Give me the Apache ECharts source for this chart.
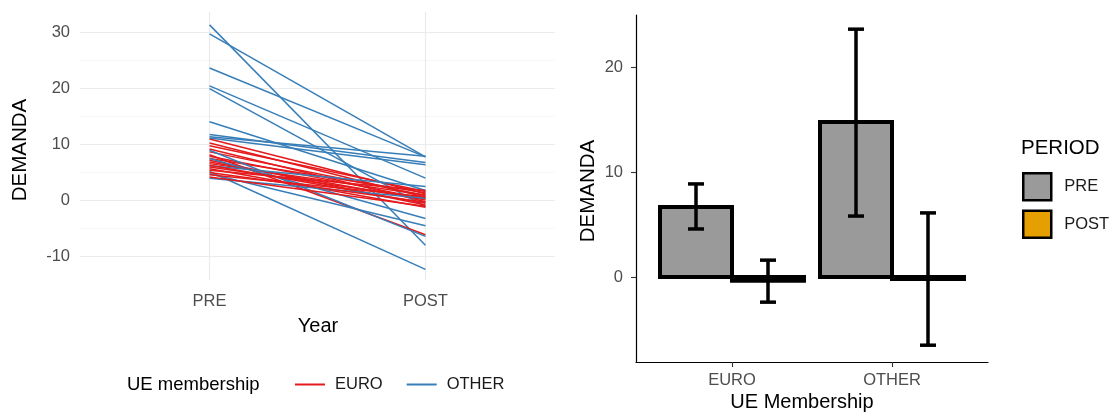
<!DOCTYPE html>
<html>
<head>
<meta charset="utf-8">
<script src="https://cdn.jsdelivr.net/npm/echarts@6/dist/echarts.min.js"></script>
<style>
  html, body { margin: 0; padding: 0; background: #ffffff; }
  #main { width: 1114px; height: 413px; }
</style>
</head>
<body>
<div id="main"></div>
<script>
// ---- Left panel: country trajectories PRE -> POST ----
const periods = ['PRE', 'POST'];
const euroPre  = [11.0, 10.3, 9.8, 9.2, 8.7, 8.2, 7.9, 7.5, 7.2, 6.9, 6.6, 6.3, 6.0, 5.7, 5.4, 5.0, 4.6, 4.2];
const euroPost = [1.2, 0.6, 1.6, -0.2, 0.9, -6.1, 0.3, 1.4, -0.8, 0.1, 1.0, -0.5, 0.4, -1.2, 1.8, -0.3, 0.7, -1.0];
const otherPre  = [31.4, 29.8, 23.7, 20.5, 20.0, 14.1, 11.8, 11.4, 11.2, 9.0, 7.5, 6.2, 5.2, 4.8, 4.0];
const otherPost = [-8.0, 7.8, 7.8, 4.0, -1.1, 1.8, 6.8, 7.9, 6.4, -6.4, -3.2, 2.5, -12.3, -4.5, 0.4];
const leftTicks = [-10, 0, 10, 20, 30];
const leftMinor = [-5, 5, 15, 25];

// ---- Right panel: group means with error bars ----
const memberships = ['EURO', 'OTHER'];
const meanPre  = [6.67, 14.76];
const meanPost = [-0.35, -0.2];
const lowPre   = [4.57, 5.8];
const highPre  = [8.86, 23.6];
const lowPost  = [-2.4, -6.5];
const highPost = [1.6, 6.1];
const rightTicks = [0, 10, 20];

const FONT = "'Liberation Sans', Arial, Helvetica, sans-serif";
const RED = '#E41A1C', BLUE = '#377EB8';
const GREY_FILL = '#9A9A9A', ORANGE = '#E69F00';

const chart = echarts.init(document.getElementById('main'), null, { renderer: 'canvas' });

// one line series per country, blue and red interleaved in drawing order
const lineSeries = [];
function countryLine(name, color, pre, post) {
  return {
    type: 'line', name: name, xAxisIndex: 0, yAxisIndex: 0,
    data: [[1, pre], [2, post]],
    symbol: 'none', silent: true, color: color,
    lineStyle: { width: 1.5, color: color }
  };
}
const n = Math.max(euroPre.length, otherPre.length);
for (let i = 0; i < n; i++) {
  if (i < otherPre.length) lineSeries.push(countryLine('OTHER', BLUE, otherPre[i], otherPost[i]));
  if (i < euroPre.length) lineSeries.push(countryLine('EURO', RED, euroPre[i], euroPost[i]));
}

const BAR_W = 0.45;   // dodge width of each bar, in category units
const CAP_HALF = 0.05;
const OUTLINE = 4;

function barSeries(name, fill, means, side) {
  return {
    type: 'custom', name: name, xAxisIndex: 1, yAxisIndex: 1,
    itemStyle: { color: fill, borderColor: '#000', borderWidth: OUTLINE },
    data: means.map((v, i) => [i + 1, v]),
    renderItem: function (params, api) {
      const c = api.value(0), v = api.value(1);
      const x0 = side < 0 ? c - BAR_W : c;
      const a = api.coord([x0, 0]);
      const b = api.coord([x0 + BAR_W, v]);
      return {
        type: 'rect',
        shape: { x: a[0], y: Math.min(a[1], b[1]), width: b[0] - a[0], height: Math.max(Math.abs(b[1] - a[1]), 0.5) },
        style: { fill: fill, stroke: '#000', lineWidth: OUTLINE }
      };
    },
    z: 2
  };
}

function errSeries(name, lows, highs, side) {
  return {
    type: 'custom', name: name, xAxisIndex: 1, yAxisIndex: 1,
    data: lows.map((lo, i) => [i + 1 + side * BAR_W / 2, lo, highs[i]]),
    renderItem: function (params, api) {
      const x = api.value(0), lo = api.value(1), hi = api.value(2);
      const pLo = api.coord([x, lo]), pHi = api.coord([x, hi]);
      const l = api.coord([x - CAP_HALF, lo])[0], r = api.coord([x + CAP_HALF, lo])[0];
      const st = { stroke: '#000', lineWidth: 3.5, lineCap: 'butt' };
      return {
        type: 'group',
        children: [
          { type: 'line', shape: { x1: pLo[0], y1: pLo[1], x2: pHi[0], y2: pHi[1] }, style: st },
          { type: 'line', shape: { x1: l, y1: pLo[1], x2: r, y2: pLo[1] }, style: st },
          { type: 'line', shape: { x1: l, y1: pHi[1], x2: r, y2: pHi[1] }, style: st }
        ]
      };
    },
    z: 3
  };
}

const tickText = { color: '#4D4D4D', fontSize: 16.5, fontFamily: FONT };

const option = {
  animation: false,
  backgroundColor: '#ffffff',
  textStyle: { fontFamily: FONT },
  grid: [
    { left: 80, top: 12, width: 475, height: 268 },
    { left: 636, top: 15, width: 352, height: 347 }
  ],
  xAxis: [
    {
      type: 'value', gridIndex: 0, min: 0.4, max: 2.6,
      axisLine: { show: false },
      axisTick: { show: false, customValues: [1, 2] },
      axisLabel: Object.assign({ customValues: [1, 2], margin: 13, formatter: v => periods[Math.round(v) - 1] }, tickText),
      splitLine: { show: true, lineStyle: { color: '#EBEBEB', width: 1.2 } }
    },
    {
      type: 'value', gridIndex: 1, min: 0.4, max: 2.6,
      axisLine: { show: true, onZero: false, lineStyle: { color: '#000', width: 1.2 } },
      axisTick: { show: true, customValues: [1, 2], length: 5, lineStyle: { color: '#333', width: 1.1 } },
      axisLabel: Object.assign({ customValues: [1, 2], margin: 10, formatter: v => memberships[Math.round(v) - 1] }, tickText),
      splitLine: { show: false }
    }
  ],
  yAxis: [
    {
      type: 'value', gridIndex: 0, min: -14.2, max: 33.7,
      axisLine: { show: false },
      axisTick: { show: false, customValues: leftTicks },
      axisLabel: Object.assign({ customValues: leftTicks, margin: 10 }, tickText),
      splitLine: { show: true, lineStyle: { color: '#EBEBEB', width: 1.2 } }
    },
    {
      type: 'value', gridIndex: 1, min: -8.1, max: 24.95,
      axisLine: { show: true, onZero: false, lineStyle: { color: '#000', width: 1.2 } },
      axisTick: { show: true, customValues: rightTicks, length: 5, lineStyle: { color: '#333', width: 1.1 } },
      axisLabel: Object.assign({ customValues: rightTicks, margin: 13 }, tickText),
      splitLine: { show: false }
    },
    {
      // minor grid of the left panel
      type: 'value', gridIndex: 0, min: -14.2, max: 33.7, position: 'left',
      axisLine: { show: false },
      axisTick: { show: false, customValues: leftMinor },
      axisLabel: { show: false, customValues: leftMinor },
      splitLine: { show: true, lineStyle: { color: '#F5F5F5', width: 0.8 } }
    }
  ],
  legend: [
    {
      data: [
        { name: 'EURO', icon: 'rect', itemStyle: { color: RED } },
        { name: 'OTHER', icon: 'rect', itemStyle: { color: BLUE } }
      ],
      left: 295, top: 376, orient: 'horizontal',
      itemWidth: 30, itemHeight: 2, itemGap: 24, padding: 0,
      selectedMode: false,
      textStyle: { fontSize: 16.5, color: '#1A1A1A', fontFamily: FONT, padding: [0, 0, 0, 5] }
    },
    {
      data: [
        { name: 'PRE', icon: 'rect', itemStyle: { color: GREY_FILL, borderColor: '#000', borderWidth: 2.5 } },
        { name: 'POST', icon: 'rect', itemStyle: { color: ORANGE, borderColor: '#000', borderWidth: 2.5 } }
      ],
      left: 1022, top: 172, orient: 'vertical',
      itemWidth: 28, itemHeight: 27, itemGap: 8, padding: 0,
      selectedMode: false,
      textStyle: { fontSize: 16.5, color: '#1A1A1A', fontFamily: FONT, padding: [0, 0, 0, 8] }
    }
  ],
  graphic: [
    { type: 'text', x: 20, y: 150, rotation: Math.PI / 2,
      style: { text: 'DEMANDA', fontSize: 20.5, fill: '#000', fontFamily: FONT, align: 'center', verticalAlign: 'middle' } },
    { type: 'text', x: 318, y: 326,
      style: { text: 'Year', fontSize: 20, fill: '#000', fontFamily: FONT, align: 'center', verticalAlign: 'middle' } },
    { type: 'text', x: 127, y: 385,
      style: { text: 'UE membership', fontSize: 18.5, fill: '#000', fontFamily: FONT, align: 'left', verticalAlign: 'middle' } },
    { type: 'text', x: 588, y: 191, rotation: Math.PI / 2,
      style: { text: 'DEMANDA', fontSize: 20.5, fill: '#000', fontFamily: FONT, align: 'center', verticalAlign: 'middle' } },
    { type: 'text', x: 802, y: 402,
      style: { text: 'UE Membership', fontSize: 20, fill: '#000', fontFamily: FONT, align: 'center', verticalAlign: 'middle' } },
    { type: 'text', x: 1021, y: 148,
      style: { text: 'PERIOD', fontSize: 20.5, fill: '#000', fontFamily: FONT, align: 'left', verticalAlign: 'middle' } }
  ],
  series: lineSeries.concat([
    barSeries('PRE', GREY_FILL, meanPre, -1),
    barSeries('POST', ORANGE, meanPost, 1),
    errSeries('PRE range', lowPre, highPre, -1),
    errSeries('POST range', lowPost, highPost, 1)
  ])
};

chart.setOption(option);
</script>
</body>
</html>
